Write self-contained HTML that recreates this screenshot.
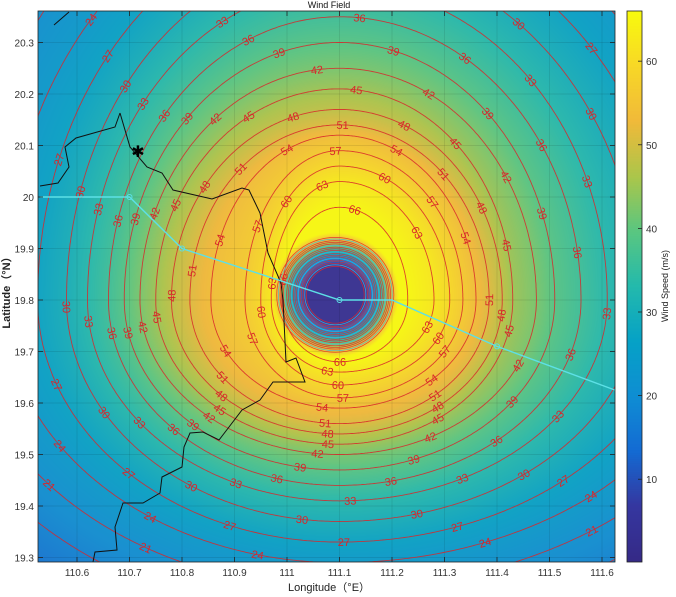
<!DOCTYPE html>
<html><head><meta charset="utf-8"><style>
body{margin:0;background:#fff;width:676px;height:597px;overflow:hidden;font-family:"Liberation Sans","Noto Sans CJK SC",sans-serif}
#wrap{position:relative;width:676px;height:597px}
canvas{position:absolute}
svg{position:absolute;left:0;top:0}
</style></head><body>
<div id="wrap">
<canvas id="heat" width="577" height="551" style="left:38px;top:11px"></canvas>
<canvas id="cbar" width="15" height="551" style="left:627px;top:11px"></canvas>
<svg id="svg" width="676" height="597"></svg>
</div>
<script>
// ---- data (radii in degrees of each contour level, by direction) ----
const levels = [18,21,24,27,30,33,36,39,42,45,48,51,54,57,60,63,66];
const radiiN = [1.0,.9,.81,.74,.67,.61,.55,.50,.45,.41,.37,.34,.32,.29,.26,.23,.18];
const radiiE = [.9,.8,.72,.64,.57,.51,.46,.41,.375,.33,.31,.285,.26,.235,.21,.18,.13];
const radiiS = [.62,.56,.51,.47,.43,.39,.36,.33,.30,.28,.26,.24,.21,.19,.165,.14,.12];
const radiiW = [.80,.72,.64,.575,.52,.48,.44,.41,.38,.35,.32,.285,.245,.18,.15,.13,.11];
const coreLevels = [3,6,9,12,15,18,21,24,27,30,33,36,39,42,45,48,51,54,57];
const center = [111.1, 19.8];
const coreCenter = [111.092, 19.81];
const coreInner = 0.055, coreWidth = 0.066;
const xTicks = [110.6,110.7,110.8,110.9,111,111.1,111.2,111.3,111.4,111.5,111.6];
const yTicks = [19.3,19.4,19.5,19.6,19.7,19.8,19.9,20,20.1,20.2,20.3];
const cTicks = [10,20,30,40,50,60];
const trackLon = [110.53,110.7,110.8,111.1,111.2,111.4,111.625];
const trackLat = [20.0,20.0,19.9,19.8,19.8,19.71,19.625];
const trackMarker = [0,1,1,1,0,1,0];
const cMin = 0.1, cMax = 66;

// ---- axes ----
const X0=38,X1=615,Y0=11,Y1=562;
const px = lon => 77 + (lon-110.6)*525;
const py = lat => 300 - (lat-19.8)*515;
const cy = v => Y1 - (v-cMin)/(cMax-cMin)*(Y1-Y0);

const parula=[[0,[53,42,135]],[.1,[54,55,160]],[.2,[20,107,211]],[.3,[15,142,211]],[.4,[6,162,199]],[.5,[36,186,173]],[.6,[90,199,129]],[.7,[172,198,75]],[.8,[241,186,58]],[.9,[248,216,39]],[1,[249,251,14]]];
function cmap(t){t=Math.max(0,Math.min(1,t));for(let i=0;i<parula.length-1;i++){const a=parula[i],b=parula[i+1];if(t<=b[0]){const f=(t-a[0])/(b[0]-a[0]);return a[1].map((c,k)=>c+(b[1][k]-c)*f);}}return parula[parula.length-1][1];}

function rLevel(i,c,s){const a=c>=0?radiiE[i]:radiiW[i];const b=s>=0?radiiN[i]:radiiS[i];return 1/Math.sqrt(c*c/(a*a)+s*s/(b*b));}
function outer(dx,dy){
  const r=Math.hypot(dx,dy)||1e-9;const c=dx/r,s=dy/r;
  const rs=levels.map((_,i)=>rLevel(i,c,s));const n=levels.length;
  if(r>=rs[0]){return levels[0]-3*(r-rs[0])/(rs[0]-rs[1]);}
  if(r<=rs[n-1]){return levels[n-1]+1;}
  for(let i=0;i<n-1;i++){if(r<=rs[i]&&r>=rs[i+1]){return levels[i]+(levels[i+1]-levels[i])*(rs[i]-r)/(rs[i]-rs[i+1]);}}
  return 0;
}
function core(lon,lat){const r=Math.hypot(lon-coreCenter[0],lat-coreCenter[1]);const x=Math.max(0,(r-coreInner)/coreWidth);return 3+63*x;}
// heatmap
(function(){const cv=document.getElementById('heat'),ctx=cv.getContext('2d');const W=cv.width,H=cv.height;const img=ctx.createImageData(W,H);
for(let j=0;j<H;j++)for(let i=0;i<W;i++){const X=X0+i+0.5,Y=Y0+j+0.5;const lon=110.6+(X-77)/525,lat=19.8+(300-Y)/515;
const v=Math.min(outer(lon-center[0],lat-center[1]),core(lon,lat));const c=cmap((v-cMin)/(cMax-cMin));const k=(j*W+i)*4;img.data[k]=c[0]*0.94+12;img.data[k+1]=c[1]*0.94+10;img.data[k+2]=c[2]*0.94+10;img.data[k+3]=255;}
ctx.putImageData(img,0,0);
const cb=document.getElementById('cbar').getContext('2d');for(let j=0;j<551;j++){const c=cmap(1-j/550);cb.fillStyle=`rgb(${c[0]|0},${c[1]|0},${c[2]|0})`;cb.fillRect(0,j,15,1);}})();

const NS='http://www.w3.org/2000/svg';const svg=document.getElementById('svg');
function el(tag,attrs,parent){const e=document.createElementNS(NS,tag);for(const k in attrs)e.setAttribute(k,attrs[k]);(parent||svg).appendChild(e);return e;}
const defs=el('defs',{});const cp=el('clipPath',{id:'clip'},defs);el('rect',{x:X0,y:Y0,width:X1-X0,height:Y1-Y0},cp);
const plot=el('g',{'clip-path':'url(#clip)'});


// grid
xTicks.forEach(t=>{const g=el('line',{x1:px(t),x2:px(t),y1:Y0,y2:Y1,stroke:'#000','stroke-opacity':0.12,'stroke-width':0.7},plot);});
yTicks.forEach(t=>{const g=el('line',{x1:X0,x2:X1,y1:py(t),y2:py(t),stroke:'#000','stroke-opacity':0.12,'stroke-width':0.7},plot);});
// contours
const ccx=px(center[0]),ccy=py(center[1]);
function curve(fn){const pts=[];for(let a=0;a<=720;a++){const th=a/720*2*Math.PI;const c=Math.cos(th),s=Math.sin(th);const r=fn(c,s);pts.push([ccx+c*r*525,ccy-s*r*515]);}return pts;}
levels.forEach((L,i)=>{
  const pts=curve((c,s)=>rLevel(i,c,s));
  const p=el('path',{d:'M'+pts.map(q=>q[0].toFixed(1)+','+q[1].toFixed(1)).join('L'),fill:'none',stroke:'#d8262a','stroke-width':0.9,'stroke-opacity':0.85},plot);
  
  
  let acc=0,next=(i*41)%115+30;
  for(let k=1;k<pts.length;k++){const d=Math.hypot(pts[k][0]-pts[k-1][0],pts[k][1]-pts[k-1][1]);acc+=d;
    if(acc>=next){next+=115;const [x,y]=pts[k];if(x<X0+8||x>X1-8||y<Y0+6||y>Y1-6)continue;
      let ang=Math.atan2(pts[k][1]-pts[k-1][1],pts[k][0]-pts[k-1][0])*180/Math.PI;if(ang>90)ang-=180;if(ang<-90)ang+=180;
      const t=el('text',{x:x,y:y+4,'text-anchor':'middle','font-size':11,fill:'#d8262a',transform:`rotate(${ang.toFixed(1)} ${x.toFixed(1)} ${y.toFixed(1)})`},plot);t.textContent=L;
      
      }}
});
const kcx=px(coreCenter[0]),kcy=py(coreCenter[1]);
coreLevels.forEach((L,j)=>{const r=coreInner+coreWidth*(L-3)/63;
  const p=el('ellipse',{cx:kcx,cy:kcy,rx:r*525,ry:r*515,fill:'none',stroke:(j%4==1)?'#40b8d8':'#e02a2a','stroke-width':0.7,'stroke-opacity':0.9},plot);
  
  });
// coastline
const coast=[[120,113],[130,147],[147,167],[162,173],[173,190],[212,199],[242,188],[249,190],[260,213],[268,253],[281,283],[283,300],[286,362],[296,358],[305,382],[273,382],[260,400],[242,410],[229,427],[219,440],[203,432],[190,433],[184,447],[182,467],[162,477],[160,493],[143,503],[123,503],[115,527],[117,550],[95,552],[93,562]];
const coastW=[[120,113],[115,127],[76,138],[65,147],[69,167],[58,183],[40,186]];
[coast,coastW,[[54,25],[69,12]]].forEach(c=>{const p=el('polyline',{points:c.map(q=>q.join(',')).join(' '),fill:'none',stroke:'#111','stroke-width':1},plot);});
// track
const tp=trackLon.map((lo,i)=>[px(lo),py(trackLat[i])]);
const tr=el('polyline',{points:tp.map(q=>q.join(',')).join(' '),fill:'none',stroke:'#5de0e6','stroke-width':1.4},plot);

tp.forEach((q,i)=>{if(trackMarker[i]){const m=el('circle',{cx:q[0],cy:q[1],r:2.5,fill:'none',stroke:'#5de0e6','stroke-width':1},plot);}});
const star=el('text',{x:138,y:157,'text-anchor':'middle','font-size':16,fill:'#000'},plot);star.textContent='✱';

// axes box & ticks
const box=el('rect',{x:X0,y:Y0,width:X1-X0,height:Y1-Y0,fill:'none',stroke:'#222','stroke-width':0.8});
xTicks.forEach(t=>{el('line',{x1:px(t),x2:px(t),y1:Y1,y2:Y1-5,stroke:'#222','stroke-width':0.8});el('line',{x1:px(t),x2:px(t),y1:Y0,y2:Y0+5,stroke:'#222','stroke-width':0.8});
  const tx=el('text',{x:px(t),y:576,'text-anchor':'middle','font-size':10,fill:'#333'});tx.textContent=t;});
yTicks.forEach(t=>{el('line',{x1:X0,x2:X0+5,y1:py(t),y2:py(t),stroke:'#222','stroke-width':0.8});el('line',{x1:X1,x2:X1-5,y1:py(t),y2:py(t),stroke:'#222','stroke-width':0.8});
  const tx=el('text',{x:34,y:py(t)+4,'text-anchor':'end','font-size':10,fill:'#333'});tx.textContent=t;});
const cbb=el('rect',{x:627,y:Y0,width:15,height:Y1-Y0,fill:'none',stroke:'#222','stroke-width':0.8});
cTicks.forEach(t=>{el('line',{x1:638,x2:642,y1:cy(t),y2:cy(t),stroke:'#222','stroke-width':0.8});const tx=el('text',{x:646,y:cy(t)+4,'font-size':10,fill:'#333'});tx.textContent=t;});
const ttl=el('text',{x:329,y:8,'text-anchor':'middle','font-size':9,fill:'#111'});ttl.textContent='Wind Field';
const xl=el('text',{x:329,y:591,'text-anchor':'middle','font-size':11,fill:'#222'});xl.textContent='Longitude（°E）';
const yl=el('text',{x:0,y:0,'text-anchor':'middle','font-size':11,fill:'#222','font-weight':'bold',transform:'translate(10,290) rotate(-90)'});yl.textContent='Latitude（°N）';
const cl=el('text',{x:0,y:0,'text-anchor':'middle','font-size':9,fill:'#222',transform:'translate(668,286) rotate(-90)'});cl.textContent='Wind Speed (m/s)';
</script>
</body></html>
